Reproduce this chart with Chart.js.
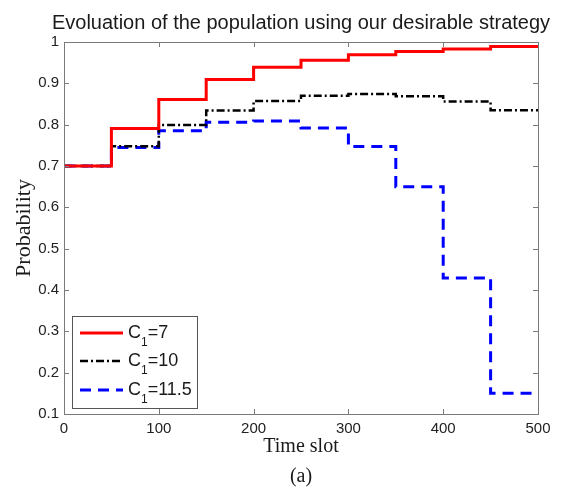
<!DOCTYPE html>
<html>
<head>
<meta charset="utf-8">
<script src="https://cdn.jsdelivr.net/npm/chart.js@4/dist/chart.umd.min.js"></script>
<style>
html,body{margin:0;padding:0;background:#fff;}
canvas{display:block;}
</style>
</head>
<body>
<canvas id="c" width="562" height="487"></canvas>
<script>
const titleText = "Evoluation of the population using our desirable strategy";
const xTitle = "Time slot";
const yTitle = "Probability";
const caption = "(a)";
const slotStarts = [0, 50, 100, 150, 200, 250, 300, 350, 400, 450];
const slotEnd = 500;
const c7 = [0.700, 0.791, 0.861, 0.909, 0.939, 0.956, 0.969, 0.977, 0.983, 0.989];
const c10 = [0.700, 0.748, 0.799, 0.834, 0.857, 0.870, 0.874, 0.869, 0.856, 0.835];
const c115 = [0.700, 0.745, 0.785, 0.806, 0.809, 0.792, 0.747, 0.650, 0.429, 0.150];
const seriesNames = [["C", "1", "=7"], ["C", "1", "=10"], ["C", "1", "=11.5"]];
const xTicks = [0, 100, 200, 300, 400, 500];
const yTicks = [0.1, 0.2, 0.3, 0.4, 0.5, 0.6, 0.7, 0.8, 0.9, 1];

function toPoints(vals) {
  const pts = slotStarts.map((x, i) => ({x: x, y: vals[i]}));
  pts.push({x: slotEnd, y: vals[vals.length - 1]});
  return pts;
}

const SANS = "'Liberation Sans', Arial, sans-serif";
const SERIF = "'Liberation Serif', 'Times New Roman', serif";

const styles = [
  {color: '#ff0000', width: 3, dash: []},
  {color: '#000000', width: 2.5, dash: [8, 3, 2, 3]},
  {color: '#0000ff', width: 3, dash: [11, 7]}
];

const decor = {
  id: 'decor',
  afterDraw(chart) {
    const ctx = chart.ctx;
    const a = chart.chartArea;
    const xs = chart.scales.x, ys = chart.scales.y;
    ctx.save();
    ctx.strokeStyle = '#7a7a7a';
    ctx.lineWidth = 1;
    ctx.strokeRect(Math.round(a.left) + 0.5, Math.round(a.top) + 0.5, Math.round(a.right - a.left), Math.round(a.bottom - a.top));
    const tl = 5;
    ctx.beginPath();
    xTicks.forEach(v => {
      const px = Math.round(xs.getPixelForValue(v)) + 0.5;
      ctx.moveTo(px, a.bottom); ctx.lineTo(px, a.bottom - tl);
      ctx.moveTo(px, a.top); ctx.lineTo(px, a.top + tl);
    });
    yTicks.forEach(v => {
      const py = Math.round(ys.getPixelForValue(v)) + 0.5;
      ctx.moveTo(a.left, py); ctx.lineTo(a.left + tl, py);
      ctx.moveTo(a.right, py); ctx.lineTo(a.right - tl, py);
    });
    ctx.stroke();

    ctx.fillStyle = '#1a1a1a';
    ctx.font = '20px ' + SANS;
    ctx.textAlign = 'center';
    ctx.textBaseline = 'alphabetic';
    ctx.fillText(titleText, (a.left + a.right) / 2, 29);

    ctx.font = '20px ' + SERIF;
    ctx.fillText(caption, (a.left + a.right) / 2, 482);

    const lx = a.left + 8, ly = a.bottom - 98, lw = 125, lh = 92;
    ctx.fillStyle = '#ffffff';
    ctx.fillRect(lx, ly, lw, lh);
    ctx.strokeStyle = '#555';
    ctx.lineWidth = 1;
    ctx.strokeRect(Math.round(lx) + 0.5, Math.round(ly) + 0.5, lw, lh);
    const rows = [ly + 17, ly + 45, ly + 74];
    seriesNames.forEach((n, i) => {
      const st = styles[i];
      ctx.beginPath();
      ctx.strokeStyle = st.color;
      ctx.lineWidth = st.width;
      ctx.setLineDash(st.dash);
      ctx.moveTo(lx + 8, rows[i]);
      ctx.lineTo(lx + 51, rows[i]);
      ctx.stroke();
      ctx.setLineDash([]);
      ctx.fillStyle = '#1a1a1a';
      ctx.textAlign = 'left';
      ctx.textBaseline = 'middle';
      let tx = lx + 56;
      ctx.font = '18px ' + SANS;
      ctx.fillText(n[0], tx, rows[i]);
      tx += ctx.measureText(n[0]).width;
      ctx.font = '12px ' + SANS;
      ctx.fillText(n[1], tx, rows[i] + 10);
      tx += ctx.measureText(n[1]).width;
      ctx.font = '18px ' + SANS;
      ctx.fillText(n[2], tx, rows[i]);
    });
    ctx.restore();
  }
};

new Chart(document.getElementById('c'), {
  type: 'line',
  data: {
    datasets: [c7, c10, c115].map((vals, i) => ({
      label: seriesNames[i].join(''),
      data: toPoints(vals),
      stepped: 'before',
      borderColor: styles[i].color,
      borderWidth: styles[i].width,
      borderDash: styles[i].dash,
      pointRadius: 0,
      fill: false,
      tension: 0
    }))
  },
  options: {
    responsive: false,
    devicePixelRatio: 1,
    animation: false,
    layout: {padding: {top: 42, right: 24, left: 11, bottom: 28}},
    plugins: {legend: {display: false}, title: {display: false}, tooltip: {enabled: false}},
    scales: {
      x: {
        type: 'linear',
        min: 0, max: 500,
        afterBuildTicks: s => { s.ticks = xTicks.map(v => ({value: v})); },
        grid: {display: false, drawTicks: false},
        border: {display: false},
        ticks: {font: {family: SANS, size: 15}, color: '#222', padding: 6, maxRotation: 0},
        title: {display: true, text: xTitle, font: {family: SERIF, size: 20}, color: '#1a1a1a', padding: {top: 0, bottom: 0}},
        afterFit: s => { s.height = 45; }
      },
      y: {
        type: 'linear',
        min: 0.1, max: 1,
        afterBuildTicks: s => { s.ticks = yTicks.map(v => ({value: v})); },
        grid: {display: false, drawTicks: false},
        border: {display: false},
        ticks: {font: {family: SANS, size: 15}, color: '#222', padding: 5, callback: v => String(+v.toFixed(1))},
        title: {display: true, text: yTitle, font: {family: SERIF, size: 22}, color: '#1a1a1a', padding: {top: 0, bottom: 0}},
        afterFit: s => { s.width = 53; }
      }
    }
  },
  plugins: [decor]
});
</script>
</body>
</html>
